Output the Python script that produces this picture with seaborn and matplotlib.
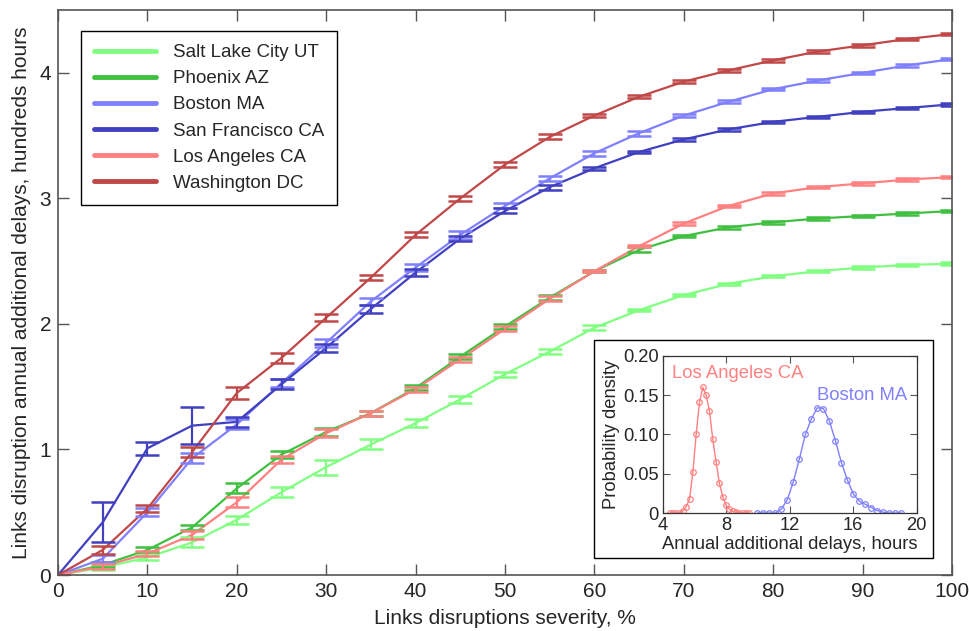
import numpy as np
import pandas as pd
import matplotlib
matplotlib.use("Agg")
import matplotlib.pyplot as plt
import seaborn as sns
from matplotlib.patches import Rectangle
from matplotlib.lines import Line2D

# main chart data (hundreds of hours vs severity %)
severity = [0, 5, 10, 15, 20, 25, 30, 35, 40, 45, 50, 55, 60, 65, 70, 75, 80, 85, 90, 95, 100]

cities = ["Salt Lake City UT", "Phoenix AZ", "Boston MA", "San Francisco CA", "Los Angeles CA", "Washington DC"]
colors = ["#80ff80", "#40c040", "#8080ff", "#4040c0", "#ff8080", "#c04848"]

salt_lake = [0, 0.06, 0.14, 0.26, 0.44, 0.66, 0.86, 1.04, 1.21, 1.40, 1.60, 1.78, 1.97, 2.11, 2.23, 2.32, 2.38, 2.42, 2.45, 2.47, 2.48]
phoenix = [0, 0.08, 0.20, 0.38, 0.69, 0.96, 1.14, 1.29, 1.49, 1.74, 1.98, 2.21, 2.42, 2.59, 2.70, 2.77, 2.81, 2.84, 2.86, 2.88, 2.90]
boston = [0, 0.13, 0.50, 0.93, 1.20, 1.53, 1.85, 2.18, 2.45, 2.71, 2.94, 3.16, 3.36, 3.52, 3.66, 3.77, 3.87, 3.94, 4.00, 4.06, 4.11]
san_francisco = [0, 0.42, 1.01, 1.19, 1.22, 1.52, 1.81, 2.12, 2.41, 2.68, 2.90, 3.09, 3.24, 3.37, 3.47, 3.55, 3.61, 3.65, 3.69, 3.72, 3.75]
los_angeles = [0, 0.07, 0.17, 0.32, 0.58, 0.92, 1.13, 1.29, 1.48, 1.72, 1.96, 2.20, 2.42, 2.62, 2.80, 2.94, 3.04, 3.09, 3.12, 3.15, 3.17]
washington = [0, 0.20, 0.53, 0.98, 1.45, 1.73, 2.05, 2.37, 2.71, 3.00, 3.27, 3.49, 3.66, 3.81, 3.93, 4.02, 4.10, 4.17, 4.22, 4.27, 4.31]

err_salt_lake = [0, 0.02, 0.02, 0.04, 0.03, 0.04, 0.06, 0.04, 0.03, 0.03, 0.02, 0.02, 0.02, 0.01, 0.01, 0.01, 0.01, 0.01, 0.01, 0.01, 0.01]
err_phoenix = [0, 0.02, 0.02, 0.02, 0.04, 0.03, 0.03, 0.02, 0.02, 0.02, 0.02, 0.02, 0.01, 0.02, 0.01, 0.01, 0.01, 0.01, 0.01, 0.01, 0.01]
err_boston = [0, 0.03, 0.03, 0.04, 0.04, 0.03, 0.03, 0.03, 0.03, 0.03, 0.02, 0.02, 0.02, 0.02, 0.01, 0.01, 0.01, 0.01, 0.01, 0.01, 0.01]
err_san_francisco = [0, 0.16, 0.05, 0.15, 0.04, 0.04, 0.03, 0.03, 0.03, 0.02, 0.02, 0.02, 0.01, 0.01, 0.01, 0.01, 0.01, 0.01, 0.01, 0.01, 0.01]
err_los_angeles = [0, 0.02, 0.02, 0.03, 0.04, 0.03, 0.03, 0.02, 0.02, 0.02, 0.02, 0.02, 0.01, 0.01, 0.01, 0.01, 0.01, 0.01, 0.01, 0.01, 0.01]
err_washington = [0, 0.03, 0.03, 0.04, 0.05, 0.04, 0.03, 0.02, 0.02, 0.02, 0.02, 0.02, 0.01, 0.01, 0.01, 0.01, 0.01, 0.01, 0.01, 0.01, 0.01]

# inset: probability density of annual additional delays (hours)
la_hours = np.round(np.linspace(4.43, 9.45, 25), 3)
la_density = [0, 0, 0, 0, 0.003, 0.008, 0.018, 0.052, 0.100, 0.141, 0.160, 0.150, 0.130, 0.094, 0.065,
              0.038, 0.021, 0.010, 0.005, 0.002, 0.001, 0, 0, 0, 0]
boston_hours = np.round(np.linspace(9.96, 19.04, 25), 3)
boston_density = [0, 0, 0, 0, 0.005, 0.017, 0.040, 0.069, 0.100, 0.120, 0.134, 0.133, 0.117, 0.092, 0.064,
                  0.042, 0.024, 0.015, 0.011, 0.007, 0.003, 0.001, 0, 0, 0]

values = [salt_lake, phoenix, boston, san_francisco, los_angeles, washington]
errors = [err_salt_lake, err_phoenix, err_boston, err_san_francisco, err_los_angeles, err_washington]

df = pd.concat([pd.DataFrame({"severity": severity, "delay": v, "err": e, "city": c})
                for c, v, e in zip(cities, values, errors)], ignore_index=True)

sns.set_theme(style="ticks")
plt.rcParams["font.family"] = ["Liberation Sans", "DejaVu Sans"]

fig = plt.figure(figsize=(9.69, 6.31), dpi=100)
ax = fig.add_axes([0.0599, 0.0887, 0.9226, 0.8953])

palette = dict(zip(cities, colors))
sns.lineplot(data=df, x="severity", y="delay", hue="city", palette=palette,
             hue_order=cities, linewidth=1.6, ax=ax, legend=False)
for c in cities:
    d = df[df.city == c]
    ax.errorbar(d.severity, d.delay, yerr=d.err, fmt="none", ecolor=palette[c],
                elinewidth=1.6, capsize=8.5, capthick=1.8)

# legend with thick handles
handles = [Line2D([0], [0], color=col, lw=3.5) for col in colors]
leg = ax.legend(handles, cities, loc="upper left", bbox_to_anchor=(0.0257, 0.963),
                borderaxespad=0, fancybox=False, edgecolor="black", framealpha=1,
                fontsize=13.5, handlelength=3.3, handletextpad=0.9,
                labelspacing=0.48, borderpad=0.7)
leg.get_frame().set_linewidth(1.0)

ax.set_xlim(0, 100)
ax.set_ylim(0, 4.5)
ax.set_xticks(range(0, 101, 10))
ax.set_yticks(range(0, 5))
ax.set_xlabel("Links disruptions severity, %", fontsize=15, labelpad=6)
ax.set_ylabel("Links disruption annual additional delays, hundreds hours", fontsize=15, labelpad=6)
ax.tick_params(direction="in", length=8, width=1, labelsize=15, top=True, right=True,
               color="#555555", pad=5)
for s in ax.spines.values():
    s.set_color("#555555")
    s.set_linewidth(1.2)

# white box behind the inset
ax.add_patch(Rectangle((0.613, 0.1157), 0.350, 0.3455, transform=fig.transFigure,
                       facecolor="white", edgecolor="black", lw=1.0, clip_on=False, zorder=10))

ins = fig.add_axes([0.684, 0.187, 0.262, 0.249])
sns.lineplot(x=la_hours, y=la_density, color=colors[4], marker="o", markersize=4,
             markerfacecolor="none", markeredgecolor=colors[4], markeredgewidth=0.9,
             linewidth=1.0, ax=ins)
sns.lineplot(x=boston_hours, y=boston_density, color=colors[2], marker="o", markersize=4,
             markerfacecolor="none", markeredgecolor=colors[2], markeredgewidth=0.9,
             linewidth=1.0, ax=ins)
ins.text(4.6, 0.178, "Los Angeles CA", color=colors[4], fontsize=13.3, va="center")
ins.text(13.74, 0.150, "Boston MA", color=colors[2], fontsize=13.3, va="center")
ins.set_xlim(4, 20)
ins.set_ylim(0, 0.2)
ins.set_xticks([4, 8, 12, 16, 20])
ins.set_yticks([0, 0.05, 0.10, 0.15, 0.20])
ins.set_yticklabels(["0", "0.05", "0.10", "0.15", "0.20"])
ins.set_xlabel("Annual additional delays, hours", fontsize=13.2, labelpad=1)
ins.set_ylabel("Probability density", fontsize=13.2, labelpad=2)
ins.tick_params(direction="in", length=5, width=0.8, labelsize=13.2, top=True, right=True,
                color="#555555", pad=3)
for s in ins.spines.values():
    s.set_color("#333333")
    s.set_linewidth(0.9)

fig.savefig("out.png", dpi=100)
